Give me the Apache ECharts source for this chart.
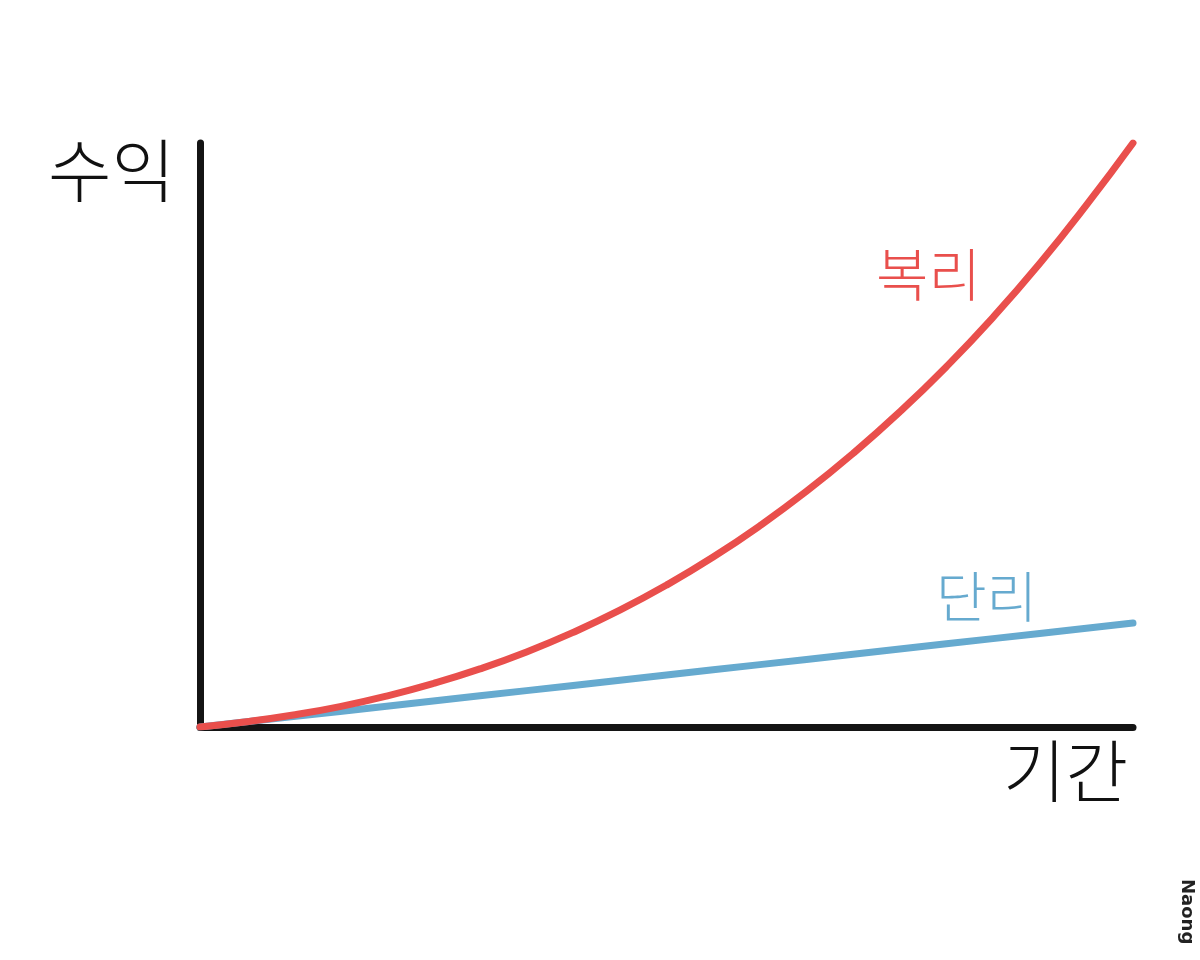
<!DOCTYPE html>
<html>
<head>
<meta charset="utf-8">
<script src="https://cdn.jsdelivr.net/npm/echarts@6/dist/echarts.min.js"></script>
<style>
  html, body { margin: 0; padding: 0; background: #ffffff; }
  #chart { width: 1200px; height: 960px; }
</style>
</head>
<body>
<div id="chart"></div>
<script>
// Period (x) values
const periods = [0, 5, 10, 15, 20, 25, 30, 35, 40, 45, 50, 55, 60, 65, 70, 75, 80, 85, 90, 95, 100];
// Compound interest (복리) return values
const compound = [0, 0.9, 2.05, 3.5, 5.3, 7.45, 9.95, 12.85, 16.2, 20.0, 24.3, 29.1, 34.45, 40.35, 46.85, 53.95, 61.7, 70.15, 79.35, 89.35, 100];
// Simple interest (단리) return values
const simple = [0, 0.89, 1.78, 2.67, 3.56, 4.45, 5.34, 6.23, 7.12, 8.01, 8.9, 9.79, 10.68, 11.57, 12.46, 13.35, 14.24, 15.13, 16.02, 16.91, 17.8];

const labels = { yName: '수익', xName: '기간', compound: '복리', simple: '단리', sign: 'Naong' };

const chart = echarts.init(document.getElementById('chart'));
const font = '"Noto Sans CJK KR", "Noto Sans", sans-serif';

chart.setOption({
  backgroundColor: '#ffffff',
  animation: false,
  grid: { left: 200, right: 67, top: 143, bottom: 233 },
  xAxis: {
    type: 'value', min: 0, max: 100,
    axisLine: { show: true, onZero: false, lineStyle: { color: '#141414', width: 7, cap: 'round' } },
    axisTick: { show: false }, axisLabel: { show: false }, splitLine: { show: false }
  },
  yAxis: {
    type: 'value', min: 0, max: 100,
    axisLine: { show: true, onZero: false, lineStyle: { color: '#141414', width: 7, cap: 'round' } },
    axisTick: { show: false }, axisLabel: { show: false }, splitLine: { show: false }
  },
  series: [
    {
      name: labels.simple, type: 'line', symbol: 'none', smooth: false,
      data: periods.map((p, i) => [p, simple[i]]),
      lineStyle: { color: '#66aacf', width: 7, cap: 'round' }, z: 3
    },
    {
      name: labels.compound, type: 'line', symbol: 'none', smooth: true,
      data: periods.map((p, i) => [p, compound[i]]),
      lineStyle: { color: '#e94f4c', width: 7, cap: 'round' }, z: 4
    }
  ],
  graphic: [
    { type: 'text', left: 48, top: 136, style: { text: labels.yName, font: '300 69px ' + font, fill: '#111111' } },
    { type: 'text', left: 1003, top: 737, style: { text: labels.xName, font: '300 68px ' + font, fill: '#111111' } },
    { type: 'text', left: 876, top: 246, style: { text: labels.compound, font: '300 57px ' + font, fill: '#e94f4c' } },
    { type: 'text', left: 936, top: 569, style: { text: labels.simple, font: '300 55px ' + font, fill: '#66aacf' } },
    { type: 'text', x: 1196, y: 879, rotation: -Math.PI / 2, style: { text: labels.sign, font: 'bold 18px "DejaVu Sans", sans-serif', fill: '#222222' } }
  ]
});
</script>
</body>
</html>
